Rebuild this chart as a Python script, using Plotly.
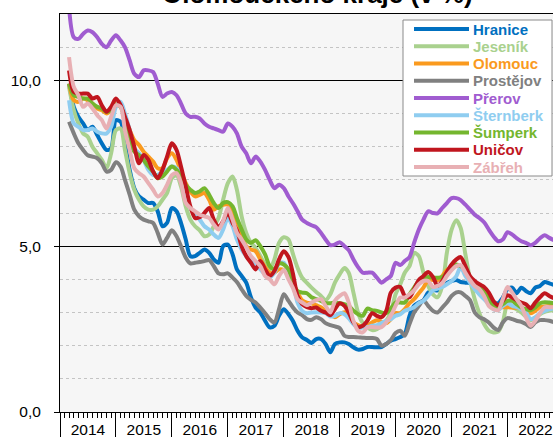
import plotly.graph_objects as go
import pandas as pd

# ---------------- data (monthly, from March 2014) ----------------
start_month = "2014-03-01"
names = ["Hranice", "Jeseník", "Olomouc", "Prostějov", "Přerov",
         "Šternberk", "Šumperk", "Uničov", "Zábřeh"]
colors = ["#0070C0", "#A9D18E", "#FA9A1E", "#808080", "#A05CD0",
          "#8FCDF0", "#74B62E", "#C0161E", "#E8B0B4"]

hranice = [9.9, 9.2, 8.9, 8.7, 8.5, 8.6, 8.35, 8.1, 7.9, 7.95,
           8.8, 8.75, 8.1, 7.3, 6.75, 6.5, 6.4, 6.3, 6.3, 6.05, 5.6, 5.7,
           6.15, 6.05, 5.7, 5.2, 4.7, 4.7, 4.8, 4.9, 4.8, 4.6, 4.5, 5.0,
           5.05, 4.75, 4.3, 4.1, 3.9, 3.45, 3.15, 3.0, 2.75, 2.55, 2.6, 2.9,
           3.1, 2.95, 2.75, 2.45, 2.25, 2.17, 2.08, 2.2, 2.2, 2.05, 1.8, 2.05,
           2.1, 2.1, 2.05, 1.95, 1.88, 1.9, 1.96, 1.96, 1.95, 1.96, 2.05, 2.15,
           2.2, 2.26, 2.35, 2.9, 3.2, 3.3, 3.37, 3.6, 3.67, 3.67, 3.8, 3.89,
           3.95, 3.98, 3.92, 3.9, 3.89, 3.75, 3.58, 3.45, 3.37, 3.3, 3.28, 3.45,
           3.7, 3.75, 3.58, 3.75, 3.65, 3.58, 3.75, 3.8, 3.92, 3.88, 3.83]
jesenik = [9.8, 9.1, 8.7, 8.4, 8.3, 8.0, 7.8, 7.6, 7.35, 7.8,
           8.5, 8.55, 7.9, 7.2, 6.7, 6.4, 6.2, 6.1, 6.1, 6.2, 6.4, 6.6,
           7.05, 7.14, 6.8, 6.2, 5.8, 5.6, 5.48, 5.3, 5.35, 5.6, 5.85, 6.4,
           6.9, 7.1, 6.7, 5.9, 5.4, 5.1, 4.95, 4.7, 4.45, 4.3, 4.6, 5.1,
           5.27, 5.2, 4.78, 4.35, 4.05, 3.89, 3.75, 3.62, 3.5, 3.37, 3.55, 3.9,
           4.15, 4.34, 4.2, 3.6, 3.0, 2.68, 2.55, 2.47, 2.5, 2.6, 2.75, 3.0,
           3.55, 3.85, 4.2, 4.4, 4.8, 4.7, 4.2, 3.8, 3.55, 3.46, 3.8, 4.8,
           5.5, 5.78, 5.55, 4.75, 4.0, 3.4, 2.98, 2.65, 2.45, 2.4, 2.42, 2.7,
           3.25, 3.16, 3.1, 3.0, 2.88, 2.77, 2.85, 2.95, 3.02, 3.05, 3.07]
olomouc = [9.9, 9.4, 9.35, 9.45, 9.4, 9.3, 9.15, 9.1, 9.0, 9.1,
           9.3, 9.2, 8.9, 8.5, 8.2, 8.05, 7.85, 7.7, 7.55, 7.35, 7.35, 7.65,
           7.8, 7.6, 7.25, 6.9, 6.65, 6.5, 6.55, 6.6, 6.4, 6.1, 6.2, 6.25,
           6.25, 6.0, 5.7, 5.3, 5.0, 4.9, 4.85, 4.6, 4.37, 4.2, 4.2, 4.3,
           4.28, 4.1, 3.89, 3.6, 3.37, 3.3, 3.28, 3.22, 3.16, 3.05, 2.95, 2.86,
           2.95, 3.01, 2.9, 2.7, 2.62, 2.56, 2.6, 2.7, 2.77, 2.72, 2.68, 2.8,
           2.98, 2.98, 3.1, 3.28, 3.4, 3.58, 3.75, 3.98, 3.98, 3.98, 4.1, 4.28,
           4.35, 4.43, 4.35, 4.2, 4.0, 3.8, 3.7, 3.58, 3.4, 3.2, 3.16, 3.16,
           3.16, 3.15, 3.14, 3.13, 3.05, 2.98, 3.05, 3.16, 3.18, 3.2, 3.22]
prostejov = [8.75, 8.4, 8.1, 7.9, 7.74, 7.7, 7.65, 7.5, 7.25, 7.3,
             7.53, 7.4, 7.0, 6.55, 6.1, 5.9, 5.8, 5.75, 5.7, 5.4, 5.05, 5.25,
             5.48, 5.3, 5.0, 4.65, 4.48, 4.5, 4.52, 4.55, 4.58, 4.4, 4.18, 4.15,
             4.18, 4.05, 3.92, 3.7, 3.5, 3.38, 3.3, 3.15, 2.98, 2.8, 2.7, 3.1,
             3.55, 3.35, 3.16, 3.0, 2.92, 2.8, 2.78, 2.86, 2.8, 2.68, 2.62, 2.58,
             2.53, 2.3, 2.26, 2.26, 2.25, 2.24, 2.23, 2.23, 2.2, 2.0, 2.05, 2.17,
             2.38, 2.45, 2.3, 2.65, 3.0, 3.2, 3.37, 3.2, 3.05, 3.0, 3.15, 3.3,
             3.5, 3.61, 3.61, 3.5, 3.37, 3.0, 2.86, 2.8, 2.7, 2.55, 2.47, 2.7,
             2.83, 2.8, 2.75, 2.72, 2.65, 2.56, 2.7, 2.77, 2.77, 2.75, 2.71]
prerov = [12.2, 11.3, 11.25, 11.4, 11.5, 11.45, 11.3, 11.1, 11.0, 11.2,
          11.36, 11.2, 11.0, 10.6, 10.2, 10.1, 10.3, 10.3, 10.25, 9.9, 9.5, 9.6,
          9.65, 9.55, 9.3, 9.0, 8.9, 8.9, 8.85, 8.7, 8.6, 8.55, 8.5, 8.45,
          8.7, 8.6, 8.4, 8.0, 7.8, 7.5, 7.7, 7.55, 7.3, 7.0, 6.75, 6.85,
          6.75, 6.5, 6.3, 6.05, 5.8, 5.7, 5.63, 5.57, 5.4, 5.2, 5.03, 5.05,
          5.12, 5.0, 4.88, 4.6, 4.37, 4.2, 4.2, 4.2, 4.05, 3.9, 4.0, 4.1,
          4.5, 4.43, 4.55, 4.67, 5.1, 5.5, 5.8, 6.05, 6.0, 5.99, 6.15, 6.3,
          6.45, 6.45, 6.39, 6.25, 6.1, 5.95, 5.85, 5.72, 5.5, 5.3, 5.15, 5.2,
          5.42, 5.35, 5.24, 5.15, 5.1, 5.03, 5.1, 5.24, 5.33, 5.25, 5.18]
sternberk = [9.4, 8.7, 8.6, 8.5, 8.5, 8.55, 8.45, 8.4, 8.4, 8.6,
             9.2, 9.35, 9.0, 8.5, 7.95, 7.8, 7.6, 7.3, 7.15, 7.15, 7.25, 7.3,
             7.4, 7.35, 7.1, 6.5, 6.15, 5.95, 5.8, 5.6, 5.5, 5.35, 5.25, 5.5,
             5.85, 5.6, 5.2, 4.9, 4.7, 4.55, 4.45, 4.3, 4.15, 4.05, 4.2, 4.48,
             4.5, 4.2, 3.9, 3.3, 3.05, 2.98, 3.0, 3.01, 3.0, 2.98, 2.88, 2.9,
             2.98, 2.95, 2.83, 2.65, 2.53, 2.55, 2.56, 2.6, 2.62, 2.68, 2.75, 2.8,
             2.9, 2.95, 3.05, 3.1, 3.16, 3.28, 3.35, 3.5, 3.67, 3.72, 3.77, 3.85,
             3.95, 4.1, 4.37, 4.1, 3.9, 3.7, 3.55, 3.4, 3.25, 3.1, 3.07, 3.2,
             3.28, 3.2, 3.16, 3.1, 3.0, 2.8, 2.85, 2.98, 3.05, 3.1, 3.13]
sumperk = [9.9, 9.55, 9.5, 9.45, 9.45, 9.3, 9.2, 9.15, 9.05, 9.1,
           9.25, 9.2, 8.8, 8.2, 7.85, 7.74, 7.6, 7.4, 7.25, 7.05, 7.1, 7.25,
           7.4, 7.3, 7.1, 6.85, 6.7, 6.6, 6.65, 6.75, 6.55, 6.3, 6.15, 6.3,
           6.33, 6.2, 5.85, 5.5, 5.2, 5.1, 5.18, 5.0, 4.75, 4.4, 4.3, 4.48,
           4.45, 4.3, 3.89, 3.65, 3.6, 3.58, 3.46, 3.4, 3.35, 3.28, 3.28, 3.3,
           3.28, 3.25, 3.2, 3.05, 2.95, 2.9, 3.12, 3.07, 3.05, 3.0, 2.98, 3.12,
           3.3, 3.3, 3.3, 3.55, 3.75, 3.95, 4.0, 4.07, 4.05, 4.05, 4.07, 4.2,
           4.35, 4.45, 4.4, 4.28, 4.05, 3.9, 3.77, 3.6, 3.4, 3.2, 3.16, 3.25,
           3.35, 3.35, 3.25, 3.15, 3.1, 3.07, 3.15, 3.28, 3.31, 3.3, 3.28]
unicov = [10.3, 9.65, 9.6, 9.6, 9.6, 9.45, 9.5, 9.25, 9.05, 9.2,
          9.45, 9.25, 8.9, 8.5, 8.0, 7.5, 7.75, 7.6, 7.25, 7.05, 7.3, 7.7,
          8.1, 7.9, 7.4, 6.8, 6.2, 5.85, 5.87, 6.0, 6.15, 5.8, 5.57, 5.75,
          6.0, 5.7, 5.48, 5.0, 4.7, 4.5, 4.3, 4.55, 4.3, 4.1, 4.25, 4.6,
          4.85, 4.67, 4.19, 3.5, 3.25, 3.16, 3.13, 3.15, 3.05, 3.0, 2.92, 3.1,
          3.28, 3.2, 3.0, 2.7, 2.56, 2.6, 2.75, 2.98, 2.9, 2.86, 3.05, 3.6,
          3.75, 3.77, 3.5, 3.46, 3.7, 3.98, 4.1, 4.22, 4.07, 3.8, 3.95, 4.22,
          4.45, 4.6, 4.67, 4.4, 4.1, 3.95, 3.85, 3.77, 3.6, 3.35, 3.22, 3.35,
          3.52, 3.45, 3.37, 3.3, 3.25, 3.13, 3.3, 3.46, 3.58, 3.5, 3.43]
zabreh = [10.7, 9.8, 9.55, 9.2, 9.3, 9.15, 8.95, 8.8, 8.55, 8.9,
          9.25, 9.2, 8.5, 7.9, 7.35, 7.2, 7.1, 6.9, 6.7, 6.5, 6.6, 6.85,
          7.14, 7.2, 6.9, 6.3, 6.15, 6.05, 5.95, 5.9, 5.85, 5.65, 5.5, 5.75,
          6.15, 5.8, 5.4, 5.2, 4.97, 4.7, 4.55, 4.4, 4.1, 4.0, 3.85, 4.1,
          4.28, 4.0, 3.75, 3.4, 3.3, 3.22, 3.3, 3.37, 3.4, 3.2, 3.0, 3.35,
          3.5, 3.58, 3.3, 2.75, 2.45, 2.4, 2.55, 2.56, 2.55, 2.56, 2.7, 2.9,
          3.2, 3.45, 3.45, 3.55, 3.67, 3.85, 3.95, 3.95, 3.77, 3.8, 3.89, 4.1,
          4.28, 4.4, 4.43, 4.2, 3.98, 3.8, 3.7, 3.5, 3.2, 3.1, 3.07, 3.4,
          3.77, 3.6, 3.4, 3.2, 2.86, 2.6, 2.75, 2.98, 3.16, 3.16, 3.16]

series = [hranice, jesenik, olomouc, prostejov, prerov,
          sternberk, sumperk, unicov, zabreh]

title_text = "Olomouckého kraje (v %)"
y_tickvals = [0, 5, 10]
y_ticktext = ["0,0", "5,0", "10,0"]
y_minor = [1, 2, 3, 4, 6, 7, 8, 9, 11]
x_range = ["2014-01-01", "2022-10-25"]

FONT = "Liberation Sans, Arial, sans-serif"

fig = go.Figure()
for name, col, vals in zip(names, colors, series):
    dates = pd.date_range(start_month, periods=len(vals), freq="MS")
    fig.add_trace(go.Scatter(
        x=dates, y=vals, mode="lines", name=name, showlegend=False,
        line=dict(color=col, width=4, shape="spline", smoothing=0.8),
        hoverinfo="x+y+name"))

# dummy trace carrying the year-label axis
fig.add_trace(go.Scatter(x=[x_range[0]], y=[None], xaxis="x2", yaxis="y",
                         showlegend=False, hoverinfo="skip"))

# ---- manual legend (box + line samples + coloured bold text) ----
L, T, W, H = 60, 14, 493, 398
def px(xp):
    return (xp - L) / W
def py(yp):
    return (T + H - yp) / H

shapes = [dict(type="rect", xref="paper", yref="paper",
               x0=px(403), x1=px(552), y0=py(176), y1=py(20),
               fillcolor="white", line=dict(color="#8a8a8a", width=1),
               layer="above")]
annotations = []
for k, (name, col) in enumerate(zip(names, colors)):
    yc = 29 + k * 17.25
    shapes.append(dict(type="line", xref="paper", yref="paper",
                       x0=px(414), x1=px(469), y0=py(yc), y1=py(yc),
                       line=dict(color=col, width=4), layer="above"))
    annotations.append(dict(xref="paper", yref="paper", x=px(471), y=py(yc),
                            xanchor="left", yanchor="middle", showarrow=False,
                            text=f"<b>{name}</b>",
                            font=dict(family=FONT, size=15, color=col)))

annotations.append(dict(xref="paper", yref="paper", x=px(317), y=py(11),
                        xanchor="center", yanchor="bottom", showarrow=False,
                        text=f"<b>{title_text}</b>",
                        font=dict(family=FONT, size=26, color="black")))

fig.update_layout(
    width=553, height=437,
    margin=dict(l=L, r=0, t=T, b=437 - T - H, pad=0, autoexpand=False),
    paper_bgcolor="white", plot_bgcolor="#f6f6f6",
    font=dict(family=FONT, size=15.5, color="black"),
    showlegend=False,
    shapes=shapes, annotations=annotations,
    xaxis=dict(type="date", range=x_range, showgrid=False, zeroline=False,
               automargin=False,
               showline=True, linecolor="black", linewidth=1, mirror=True,
               tick0="2014-01-01", dtick="M12", ticks="outside", ticklen=25,
               tickcolor="black", tickwidth=1, showticklabels=False,
               minor=dict(dtick="M1", ticks="outside", ticklen=5,
                          tickcolor="black", tickwidth=1, showgrid=False)),
    xaxis2=dict(type="date", range=x_range, overlaying="x", side="bottom",
                anchor="y", showgrid=False, zeroline=False, showline=False,
                automargin=False,
                tick0="2014-01-01", dtick="M12", tickformat="%Y",
                ticklabelmode="period", ticks="", ticklabelstandoff=6,
                tickfont=dict(family=FONT, size=15.5, color="black")),
    yaxis=dict(range=[0, 12], tickvals=y_tickvals, ticktext=y_ticktext,
               automargin=False,
               ticks="outside", ticklen=5, tickcolor="black",
               showline=True, linecolor="black", linewidth=1, mirror=False,
               showgrid=True, gridcolor="black", gridwidth=1, zeroline=False,
               ticklabelstandoff=10,
               tickfont=dict(family=FONT, size=15.5, color="black"),
               minor=dict(tickvals=y_minor, showgrid=True, gridcolor="#c4c4c4",
                          griddash="dot", gridwidth=1, ticks="")),
)

fig.write_html("out.html",
               config={"displayModeBar": False},
               post_script="document.body.style.margin='0';"
                           "document.body.style.overflow='hidden';")
